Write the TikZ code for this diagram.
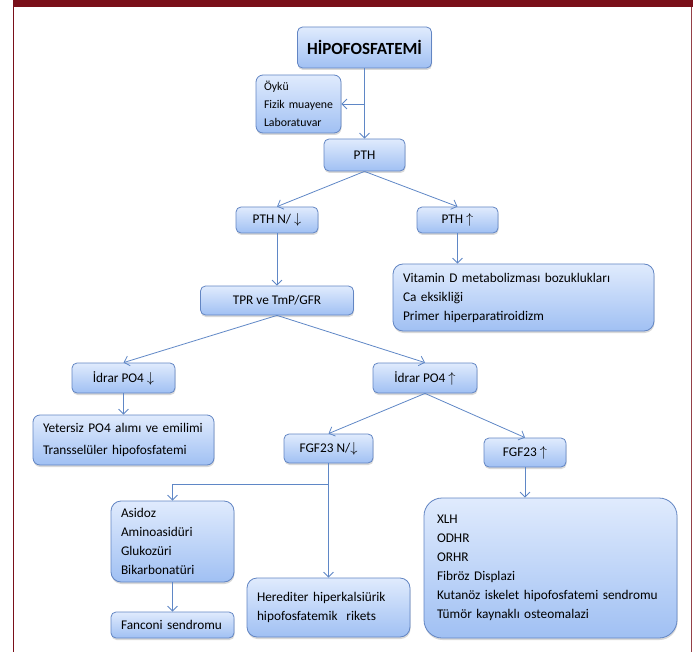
\documentclass[tikz,border=0pt]{standalone}
\usepackage{fontspec}
\setmainfont{Carlito}
\usetikzlibrary{arrows.meta, shadows}
\definecolor{framered}{RGB}{122,16,26}
\definecolor{boxtop}{RGB}{224,235,253}
\definecolor{boxbottom}{RGB}{160,192,243}
\definecolor{boxline}{RGB}{98,133,195}
\definecolor{linkblue}{RGB}{95,135,198}

\begin{document}
\begin{tikzpicture}[x=1pt, y=-1pt,
        line join=bevel,
        bluebox/.style={shape=rectangle, draw=boxline, line width=0.8pt, rounded corners=5pt, top color=boxtop, bottom color=boxbottom, drop shadow={shadow xshift=0.5pt, shadow yshift=-2pt, opacity=0.3}, inner sep=0pt, font=\fontsize{13.3}{19}\selectfont},
        listbox/.style={bluebox, align=left, inner xsep=10pt},
        link/.style={draw=linkblue, line width=0.8pt, -{Straight Barb[length=5pt, width=10pt]}}
        ]
        \useasboundingbox (0,0) rectangle (693,652);

        %% Frame
        \fill[framered] (13,0) rectangle (693,7);
        \draw[framered, line width=1.5pt] (13.5,0) -- (13.5,652);
        \draw[framered!80, line width=1pt] (691,7) -- (691,652);

        %% Boxes
        \node[bluebox, minimum width=134pt, minimum height=41pt, font=\fontsize{17}{19}\selectfont\bfseries] (hipo) at (364.5,47.5) {HİPOFOSFATEMİ};
        \node[listbox, inner xsep=8pt, text width=69pt, minimum height=58pt, rounded corners=7pt, font=\fontsize{11.8}{18}\selectfont] (oyku) at (298.5,104) {Öykü\\Fizik muayene\\Laboratuvar};
        \node[bluebox, minimum width=81pt, minimum height=32pt] (pth) at (364.5,155) {PTH};
        \node[bluebox, minimum width=82pt, minimum height=26pt] (pthlow) at (277,220) {PTH N/ $\downarrow$};
        \node[bluebox, minimum width=81pt, minimum height=26pt] (pthhigh) at (457.5,220) {PTH $\uparrow$};
        \node[listbox, text width=241pt, minimum height=67pt, rounded corners=10pt] (vitd) at (523.5,297.5) {Vitamin D metabolizması bozuklukları\\Ca eksikliği\\Primer hiperparatiroidizm};
        \node[bluebox, minimum width=153pt, minimum height=29pt] (tpr) at (277,300.5) {TPR ve TmP/GFR};
        \node[bluebox, minimum width=103pt, minimum height=30pt] (idrarlow) at (123.5,378) {İdrar PO4 $\downarrow$};
        \node[bluebox, minimum width=104pt, minimum height=30pt] (idrarhigh) at (425,378) {İdrar PO4 $\uparrow$};
        \node[listbox, text width=161pt, minimum height=50pt, rounded corners=7pt, font=\fontsize{13.3}{22}\selectfont] (yetersiz) at (123.5,440) {Yetersiz PO4 alımı ve emilimi\\Transselüler hipofosfatemi};
        \node[bluebox, minimum width=89pt, minimum height=29pt] (fgflow) at (328.5,448.5) {FGF23 N/$\downarrow$};
        \node[bluebox, minimum width=82pt, minimum height=29pt] (fgfhigh) at (525,452.5) {FGF23 $\uparrow$};
        \node[listbox, text width=103pt, minimum height=81pt, rounded corners=10pt] (asidoz) at (172.5,541.5) {Asidoz\\Aminoasidüri\\Glukozüri\\Bikarbonatüri};
        \node[listbox, text width=103pt, minimum height=26pt] (fanconi) at (172.5,625) {Fanconi sendromu};
        \node[listbox, text width=143pt, minimum height=59pt, rounded corners=10pt] (herediter) at (328.5,607.5) {Herediter hiperkalsiürik\\hipofosfatemik\ \ rikets};
        \node[listbox, inner xsep=13pt, text width=227pt, minimum height=140pt, rounded corners=18pt] (xlh) at (550.5,568) {XLH\\ODHR\\ORHR\\Fibröz Displazi\\Kutanöz iskelet hipofosfatemi sendromu\\Tümör kaynaklı osteomalazi};

        %% Connectors
        \draw[link] (hipo) -- (pth);
        \draw[link] (hipo.south |- oyku.east) -- (oyku.east);
        \draw[link] (pth.south) -- (pthlow.north);
        \draw[link] (pth.south) -- (pthhigh.north);
        \draw[link] (pthlow) -- (tpr);
        \draw[link] (pthhigh.south) -- (pthhigh.south |- vitd.north);
        \draw[link] (tpr.south) -- (idrarlow.north);
        \draw[link] (tpr.south) -- (idrarhigh.north);
        \draw[link] (idrarlow) -- (yetersiz);
        \draw[link] (idrarhigh.south) -- (fgflow.north);
        \draw[link] (idrarhigh.south) -- (fgfhigh.north);
        \draw[link] (fgflow.south) -- ++(0,21) -| (asidoz.north);
        \draw[link] (fgflow) -- (herediter);
        \draw[link] (asidoz) -- (fanconi);
        \draw[link] (fgfhigh.south) -- (fgfhigh.south |- xlh.north);
\end{tikzpicture}
\end{document}
